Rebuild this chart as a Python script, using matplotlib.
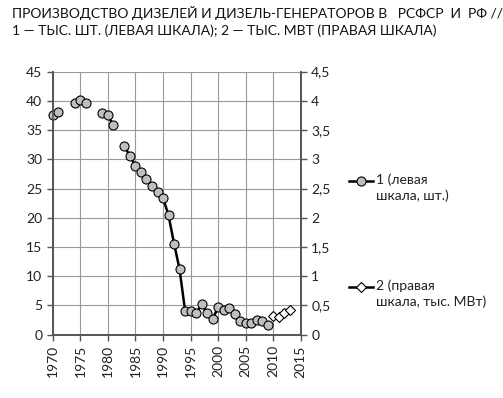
import numpy as np
import matplotlib.pyplot as plt
from matplotlib.lines import Line2D
from matplotlib.ticker import FuncFormatter

plt.rcParams['font.family'] = ['Lato', 'DejaVu Sans']

# diesels, thousand units (left scale); NaN = no data
years = list(range(1970, 2010))
units = [37.6, 38.1, np.nan, np.nan, 39.6, 40.2, 39.6, np.nan, np.nan, 37.9,
         37.5, 35.8, np.nan, 32.2, 30.6, 28.9, 27.8, 26.7, 25.5, 24.4,
         23.4, 20.4, 15.6, 11.2, 4.1, 4.1, 3.7, 5.2, 3.8, 2.7,
         4.7, 4.2, 4.5, 3.5, 2.4, 2.0, 2.0, 2.6, 2.4, 1.7]

# thousand MW (right scale)
years_mw = [2010, 2011, 2012, 2013]
mw = [0.325, 0.30, 0.38, 0.42]

W, H = 503, 398
fig = plt.figure(figsize=(W / 100, H / 100), dpi=100)
ax = fig.add_axes([0.105, 0.159, 0.493, 0.661])
ax2 = ax.twinx()

ax.plot(years, units, color='black', lw=1.8, marker='o', ms=6.5,
        mfc='#bfbfbf', mec='black', mew=0.8, zorder=3, clip_on=False)
ax2.plot(years_mw, mw, color='black', lw=0.8, marker='D', ms=5.5,
         mfc='white', mec='black', mew=0.8, zorder=3, clip_on=False)

ax.set_xlim(1970, 2015)
ax.set_ylim(0, 45)
ax2.set_ylim(0, 4.5)
ax.set_xticks(range(1970, 2016, 5))
ax.set_yticks(range(0, 46, 5))
ax2.set_yticks(np.arange(0, 4.51, 0.5))
ax2.yaxis.set_major_formatter(FuncFormatter(lambda v, p: f"{v:g}".replace('.', ',')))
ax.tick_params(axis='x', rotation=90)

ax.grid(True, color='#999999', lw=0.8)
ax.set_axisbelow(True)
for a in (ax, ax2):
    a.tick_params(labelsize=10, colors='#222222', length=4, width=1, color='#555555')
    a.spines['top'].set_visible(False)
    for s in ('left', 'right', 'bottom'):
        a.spines[s].set_color('#555555')
        a.spines[s].set_linewidth(1.2)

fig.text(0.024, 0.985, "ПРОИЗВОДСТВО ДИЗЕЛЕЙ И ДИЗЕЛЬ-ГЕНЕРАТОРОВ В   РСФСР  И  РФ //\n"
         "1 — ТЫС. ШТ. (ЛЕВАЯ ШКАЛА); 2 — ТЫС. МВТ (ПРАВАЯ ШКАЛА)",
         ha='left', va='top', fontsize=10, linespacing=1.45, color='#111111')

# legend drawn by hand: handle aligned with the first text line
legend_items = [
    ('o', '#bfbfbf', 6.5, 181, "1 (левая\nшкала, шт.)"),
    ('D', 'white', 5.5, 287, "2 (правая\nшкала, тыс. МВт)"),
]
for mk, fc, ms, ypx, label in legend_items:
    yf = 1 - ypx / H
    fig.add_artist(Line2D([349 / W, 373 / W], [yf, yf], transform=fig.transFigure,
                          color='black', lw=1.8))
    fig.add_artist(Line2D([361 / W], [yf], transform=fig.transFigure, marker=mk,
                          ms=ms, mfc=fc, mec='black', mew=0.8))
    fig.text(376 / W, yf + 8 / H, label, ha='left', va='top', fontsize=10,
             linespacing=1.35, color='#222222')

fig.savefig('out.png', dpi=100)
